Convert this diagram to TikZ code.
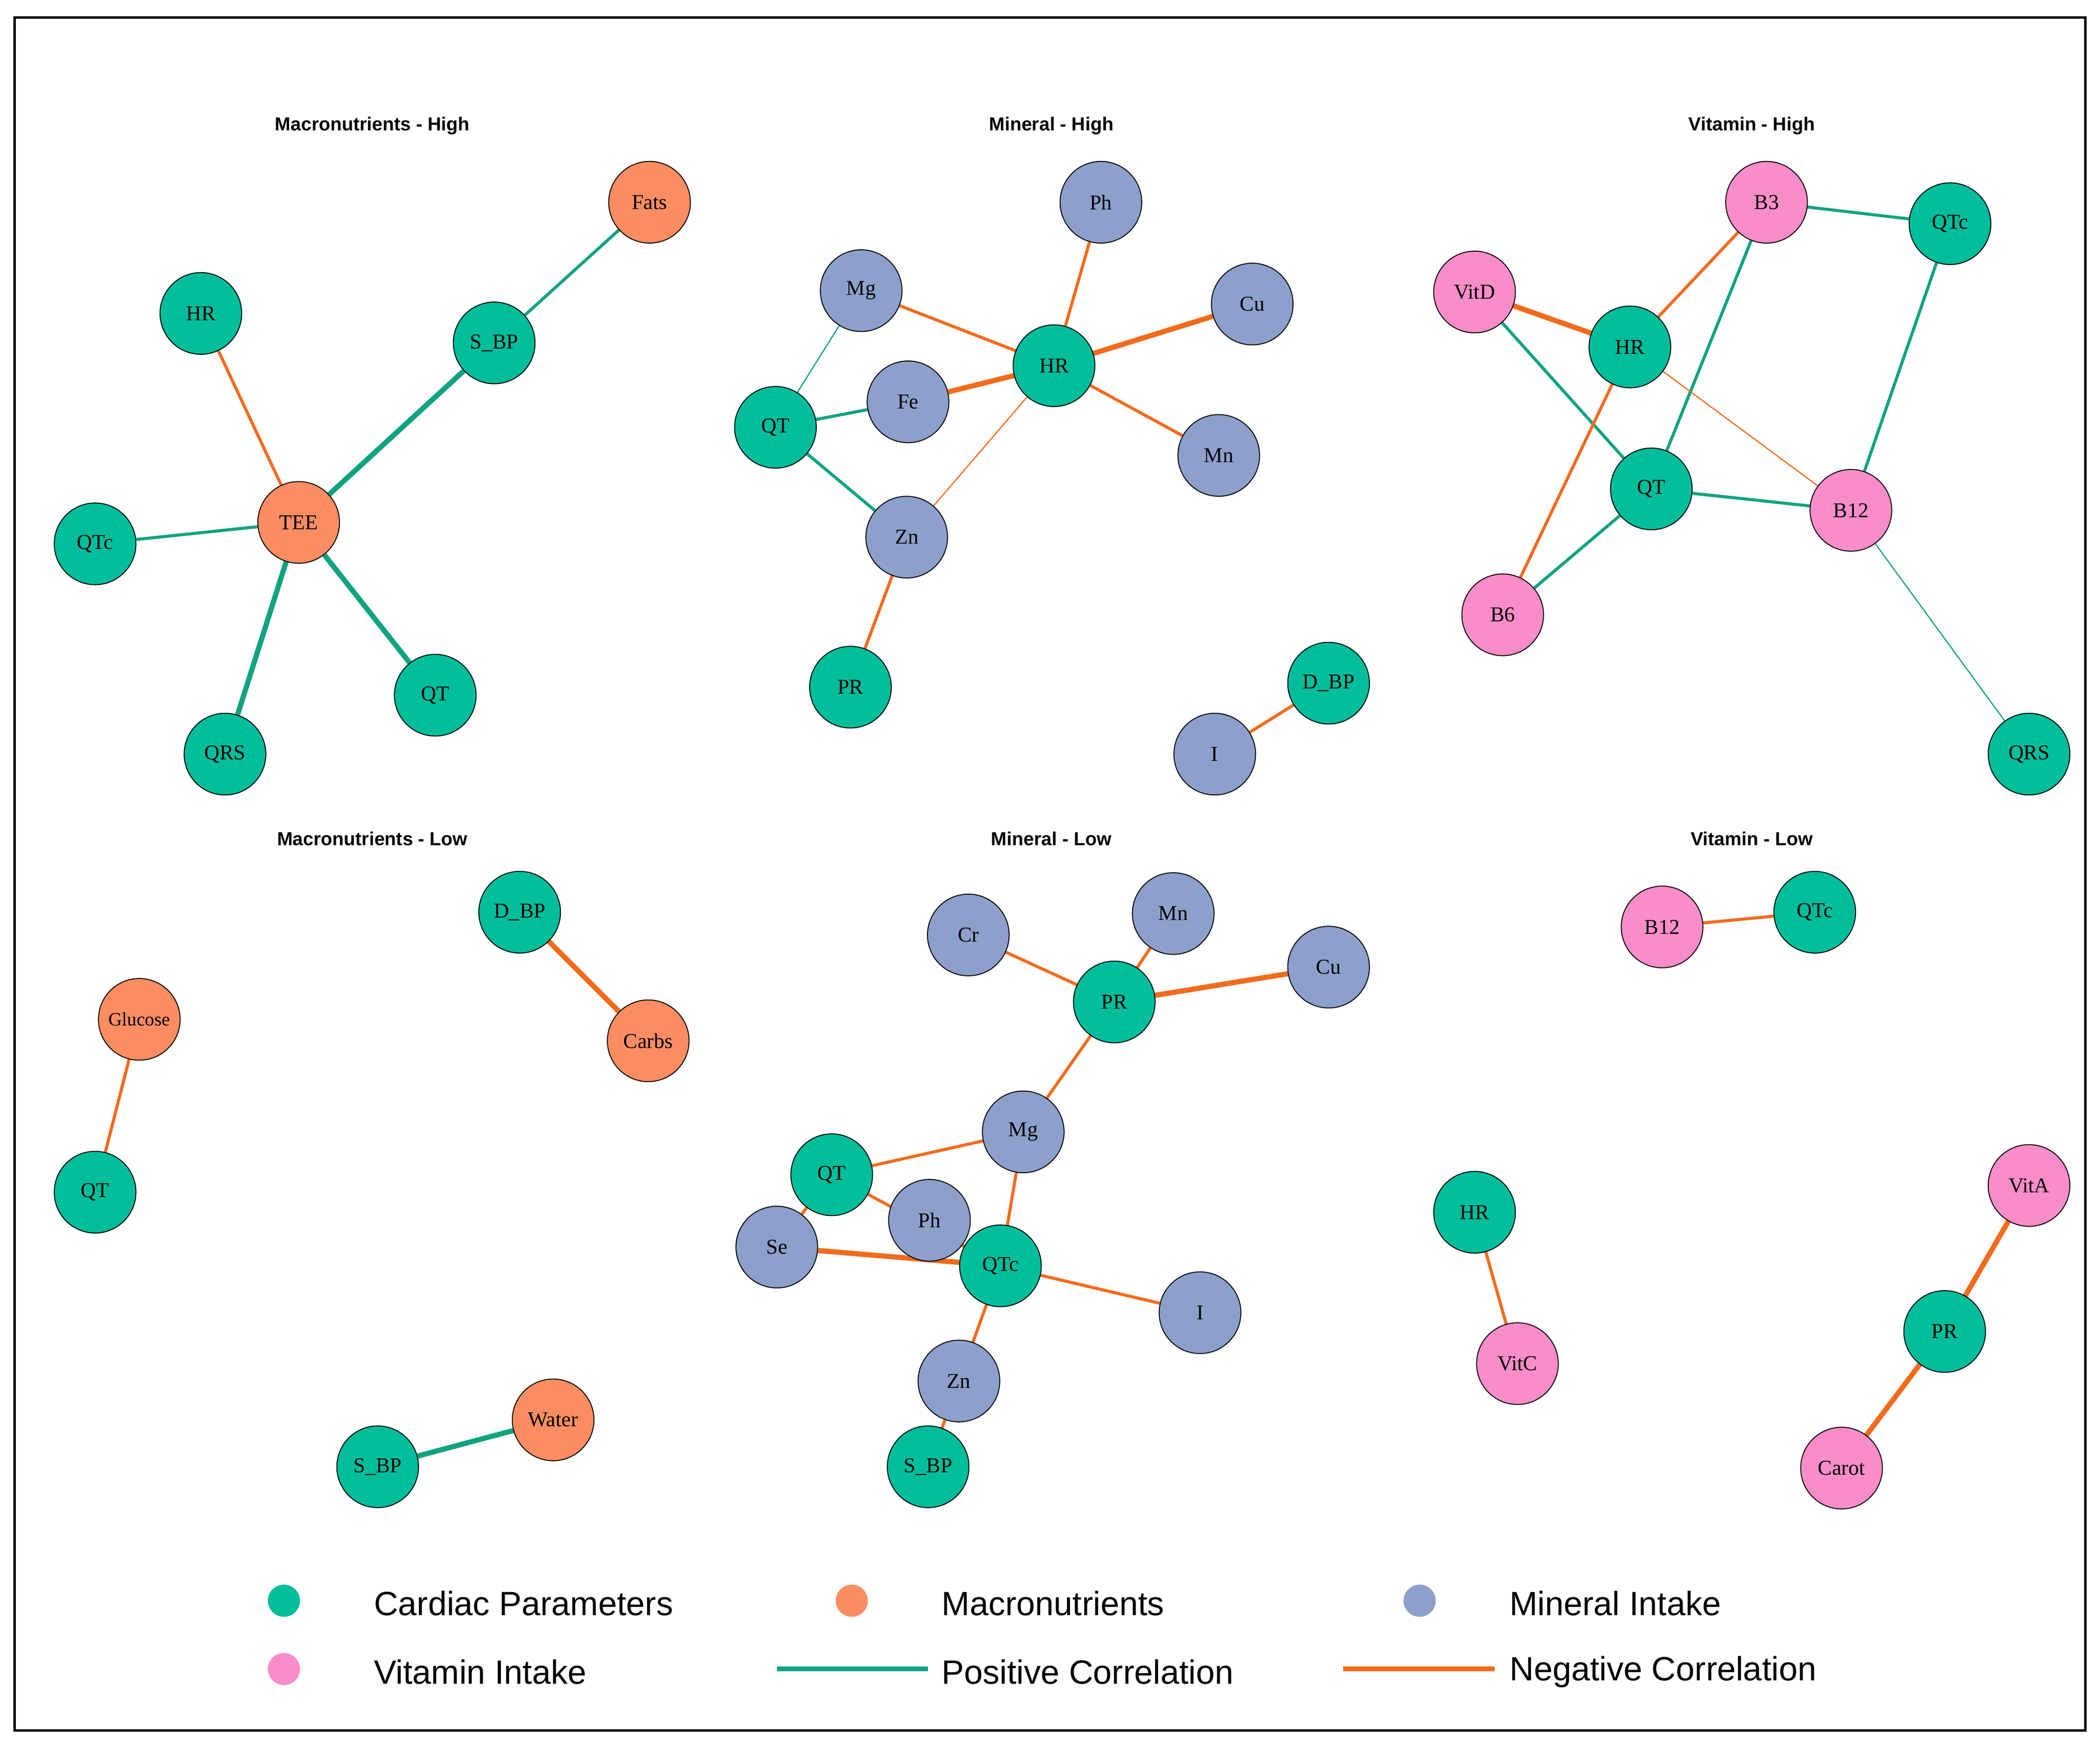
\documentclass[tikz,border=0pt]{standalone}
\usepackage{fontspec}
\setmainfont{Liberation Serif}
\newfontfamily\lsans{Liberation Sans}
\usetikzlibrary{backgrounds}
\definecolor{card}{HTML}{00BD9B}
\definecolor{macro}{HTML}{FC8D62}
\definecolor{mine}{HTML}{8DA0CB}
\definecolor{vita}{HTML}{F98DC9}
\definecolor{posc}{HTML}{0FA382}
\definecolor{negc}{HTML}{F26B1D}
\tikzset{
 nd/.style={circle,draw=black,line width=0.4pt,minimum size=1.22cm,inner sep=0pt,font=\fontsize{9}{9}\selectfont},
 C/.style={nd,fill=card}, M/.style={nd,fill=macro}, N/.style={nd,fill=mine}, V/.style={nd,fill=vita},
 pl/.style={draw=posc,line width=1.3pt}, nl/.style={draw=negc,line width=1.3pt},
 thick2/.style={line width=2.2pt}, thin2/.style={line width=0.5pt},
 ttl/.style={font=\lsans\bfseries\fontsize{8}{8}\selectfont},
 leg/.style={font=\lsans\fontsize{14.3}{14.3}\selectfont,anchor=west},
 dot/.style={circle,minimum size=0.48cm,inner sep=0pt}
}
\begin{document}
\begin{tikzpicture}[x=0.02cm,y=-0.02cm]
\useasboundingbox (0,0) rectangle (1568,1304);
\draw[line width=1pt] (11,13) rectangle (1557,1292);
% titles
\node[ttl] (t1) at (278,94) {Macronutrients - High};
\node[ttl] (t2) at (785,94) {Mineral - High};
\node[ttl] (t3) at (1308,94) {Vitamin - High};
\node[ttl] (t4) at (278,626) {Macronutrients - Low};
\node[ttl] (t5) at (785,626) {Mineral - Low};
\node[ttl] (t6) at (1308,626) {Vitamin - Low};
% Macro high
\node[M] (a1) at (485,151) {Fats};
\node[C] (a2) at (150,234) {HR};
\node[C] (a3) at (369,256) {S\_BP};
\node[M] (a4) at (223,390) {TEE};
\node[C] (a5) at (71,406) {QTc};
\node[C] (a6) at (325,519) {QT};
\node[C] (a7) at (168,563) {QRS};
% Mineral high
\node[N] (b1) at (822,151) {Ph};
\node[N] (b2) at (643,217) {Mg};
\node[N] (b3) at (935,227) {Cu};
\node[C] (b4) at (787,273) {HR};
\node[N] (b5) at (678,300) {Fe};
\node[C] (b6) at (579,319) {QT};
\node[N] (b7) at (910,340) {Mn};
\node[N] (b8) at (677,401) {Zn};
\node[C] (b9) at (635,513) {PR};
\node[C] (b10) at (992,510) {D\_BP};
\node[N] (b11) at (907,563) {I};
% Vitamin high
\node[V] (c1) at (1319,151) {B3};
\node[C] (c2) at (1456,167) {QTc};
\node[V] (c3) at (1101,218) {VitD};
\node[C] (c4) at (1217,259) {HR};
\node[C] (c5) at (1233,365) {QT};
\node[V] (c6) at (1382,381) {B12};
\node[V] (c7) at (1122,459) {B6};
\node[C] (c8) at (1515,563) {QRS};
% Macro low
\node[C] (d1) at (388,681) {D\_BP};
\node[M] (d2) at (484,777) {Carbs};
\node[M,font=\fontsize{8}{8}\selectfont] (d3) at (104,761) {Glucose};
\node[C] (d4) at (71,890) {QT};
\node[C] (d5) at (282,1095) {S\_BP};
\node[M] (d6) at (413,1060) {Water};
% Mineral low
\node[N] (e1) at (723,698) {Cr};
\node[N] (e2) at (876,682) {Mn};
\node[N] (e3) at (992,722) {Cu};
\node[C] (e4) at (832,748) {PR};
\node[N] (e5) at (764,845) {Mg};
\node[C] (e6) at (621,877) {QT};
\node[N] (e7) at (694,911) {Ph};
\node[N] (e8) at (580,931) {Se};
\node[C] (e9) at (747,945) {QTc};
\node[N] (e10) at (896,980) {I};
\node[N] (e11) at (716,1031) {Zn};
\node[C] (e12) at (693,1095) {S\_BP};
% Vitamin low
\node[V] (f1) at (1241,692) {B12};
\node[C] (f2) at (1355,681) {QTc};
\node[C] (f3) at (1101,905) {HR};
\node[V] (f4) at (1133,1018) {VitC};
\node[V] (f5) at (1515,885) {VitA};
\node[C] (f6) at (1452,994) {PR};
\node[V] (f7) at (1375,1096) {Carot};
\begin{pgfonlayer}{background}
\draw[pl] (a1)--(a3); \draw[pl,thick2] (a3)--(a4); \draw[nl] (a2)--(a4);
\draw[pl] (a5)--(a4); \draw[pl,thick2] (a4)--(a6); \draw[pl,thick2] (a4)--(a7);
\draw[nl] (b1)--(b4); \draw[nl] (b2)--(b4); \draw[nl,thick2] (b3)--(b4);
\draw[nl,thick2] (b5)--(b4); \draw[nl] (b7)--(b4); \draw[nl,thin2] (b8)--(b4);
\draw[pl,thin2] (b2)--(b6); \draw[pl] (b6)--(b5); \draw[pl] (b6)--(b8);
\draw[nl] (b8)--(b9); \draw[nl] (b11)--(b10);
\draw[pl] (c1)--(c2); \draw[nl] (c1)--(c4); \draw[pl] (c1)--(c5);
\draw[nl,thick2] (c3)--(c4); \draw[pl] (c3)--(c5); \draw[nl] (c4)--(c7);
\draw[nl,thin2] (c4)--(c6); \draw[pl] (c5)--(c6); \draw[pl] (c5)--(c7);
\draw[pl] (c2)--(c6); \draw[pl,thin2] (c6)--(c8);
\draw[nl,thick2] (d1)--(d2); \draw[nl] (d3)--(d4); \draw[pl,thick2] (d5)--(d6);
\draw[nl] (e1)--(e4); \draw[nl] (e2)--(e4); \draw[nl,thick2] (e3)--(e4);
\draw[nl] (e4)--(e5); \draw[nl] (e5)--(e6); \draw[nl] (e5)--(e9);
\draw[nl] (e6)--(e9); \draw[nl] (e6)--(e8); \draw[nl,thick2] (e8)--(e9);
\draw[nl] (e9)--(e10); \draw[nl] (e9)--(e11); \draw[nl] (e11)--(e12);
\draw[nl] (f1)--(f2); \draw[nl] (f3)--(f4);
\draw[nl,thick2] (f5)--(f6); \draw[nl,thick2] (f6)--(f7);
\end{pgfonlayer}
% legend
\node[dot,fill=card] (l1) at (212,1195) {};
\node[leg] (l1t) at (273,1197) {Cardiac Parameters};
\node[dot,fill=macro] (l2) at (636,1195) {};
\node[leg] (l2t) at (697,1197) {Macronutrients};
\node[dot,fill=mine] (l3) at (1060,1195) {};
\node[leg] (l3t) at (1121,1197) {Mineral Intake};
\node[dot,fill=vita] (l4) at (212,1246) {};
\node[leg] (l4t) at (273,1248) {Vitamin Intake};
\coordinate (p1) at (580,1246); \coordinate (p2) at (693,1246);
\draw[pl,line width=2pt] (p1)--(p2);
\node[leg] (l5t) at (697,1248) {Positive Correlation};
\coordinate (n1) at (1003,1246); \coordinate (n2) at (1116,1246);
\draw[nl,line width=2pt] (n1)--(n2);
\node[leg] (l6t) at (1121,1248) {Negative Correlation};
\end{tikzpicture}
\end{document}
